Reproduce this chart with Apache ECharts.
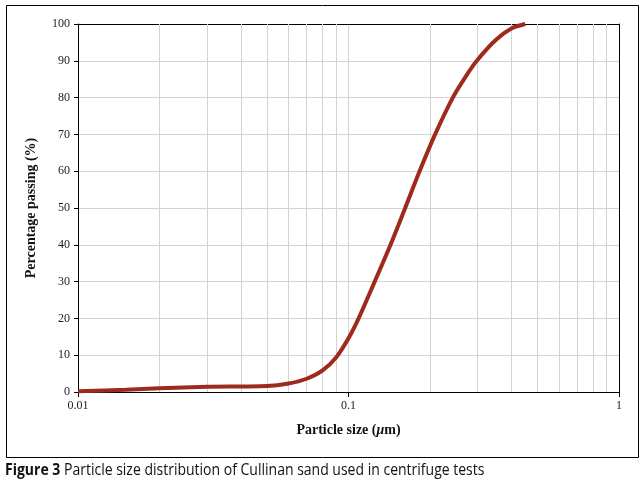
<!DOCTYPE html>
<html>
<head>
<meta charset="utf-8">
<script src="https://cdn.jsdelivr.net/npm/echarts@6/dist/echarts.min.js"></script>
<style>
html,body{margin:0;padding:0;background:#fff;}
#c{width:644px;height:485px;}
</style>
</head>
<body>
<div id="c"></div>
<script>
// Particle size (µm)
var sizes = [0.01, 0.015, 0.02, 0.03, 0.04, 0.05, 0.06, 0.07, 0.08, 0.09, 0.1, 0.109, 0.125, 0.143, 0.162, 0.182, 0.209, 0.243, 0.27, 0.298, 0.351, 0.40, 0.45];
// Percentage passing (%)
var passing = [0.2, 0.6, 1.0, 1.4, 1.5, 1.6, 2.3, 3.6, 5.8, 9.4, 14.6, 20, 30, 40, 50, 59.5, 70, 80, 85.5, 90, 95.7, 98.8, 100];
var xTickLabels = ['0.01', '0.1', '1'];
var minorGridX = [0.02,0.03,0.04,0.05,0.06,0.07,0.08,0.09,0.2,0.3,0.4,0.5,0.6,0.7,0.8,0.9];

var chart = echarts.init(document.getElementById('c'), null, {renderer:'canvas'});
var serif = '"Liberation Serif", "DejaVu Serif", serif';
var sans = '"Open Sans", "Noto Sans", sans-serif';
var gridCol = '#d3d3d3';
var data = sizes.map(function(s,i){return [s, passing[i]];});

chart.setOption({
  animation:false,
  backgroundColor:'#fff',
  grid:{left:78, top:24, width:541, height:368, containLabel:false},
  xAxis:[{
    type:'log', logBase:10, min:0.01, max:1,
    name:'Particle size ({i|μ}m)',
    nameLocation:'middle', nameGap:31,
    nameTextStyle:{fontFamily:serif, fontWeight:'bold', fontSize:14, color:'#111',
      rich:{i:{fontFamily:serif, fontWeight:'bold', fontStyle:'italic', fontSize:14, color:'#111'}}},
    axisLine:{show:true, lineStyle:{color:'#000', width:1}},
    axisTick:{show:true, inside:false, length:5, lineStyle:{color:'#000'}},
    axisLabel:{fontFamily:serif, fontSize:12, color:'#222', margin:8,
      formatter:function(v){ var e=Math.round(Math.log10(v))+2; return xTickLabels[e]||''; }},
    splitLine:{show:true, lineStyle:{color:gridCol, width:1}},
    minorTick:{show:false}, minorSplitLine:{show:false}
  },{
    type:'log', logBase:10, min:0.01, max:1, position:'top',
    axisLine:{show:true, onZero:false, lineStyle:{color:'#000', width:1}},
    axisTick:{show:false}, axisLabel:{show:false}, splitLine:{show:false}
  }],
  yAxis:[{
    type:'value', min:0, max:100, interval:10,
    name:'Percentage passing (%)',
    nameLocation:'middle', nameGap:40, nameRotate:90,
    nameTextStyle:{fontFamily:serif, fontWeight:'bold', fontSize:14, color:'#111'},
    axisLine:{show:true, onZero:false, lineStyle:{color:'#000', width:1}},
    axisTick:{show:true, inside:false, length:4, lineStyle:{color:'#000'}},
    axisLabel:{fontFamily:serif, fontSize:12, color:'#222', margin:8},
    splitLine:{show:true, lineStyle:{color:gridCol, width:1}}
  },{
    type:'value', min:0, max:100, interval:10, position:'right',
    axisLine:{show:true, onZero:false, lineStyle:{color:'#000', width:1}},
    axisTick:{show:false}, axisLabel:{show:false}, splitLine:{show:false}
  }],
  series:[{
    type:'line', xAxisIndex:0, yAxisIndex:0,
    data:[], silent:true,
    markLine:{silent:true, symbol:['none','none'], animation:false,
      label:{show:false},
      lineStyle:{color:gridCol, width:1, type:'solid'},
      data:minorGridX.map(function(v){return {xAxis:v};})},
    z:1
  },{
    type:'line', xAxisIndex:0, yAxisIndex:0,
    data:data, smooth:0.3, showSymbol:false, symbol:'none',
    lineStyle:{color:'#9e2a1e', width:4}, z:5
  }],
  graphic:[{
    type:'rect', left:4, top:3, z:-1,
    shape:{x:0,y:0,width:632,height:452},
    style:{fill:null, stroke:'#000', lineWidth:1}
  },{
    type:'text', x:5, y:462, scaleX:0.875,
    style:{
      text:'{b|Figure 3} Particle size distribution of Cullinan sand used in centrifuge tests',
      rich:{b:{fontFamily:sans, fontWeight:'bold', fontSize:16, fill:'#111'}},
      fontFamily:sans, fontSize:16, fill:'#111'
    }
  }]
});
</script>
</body>
</html>
